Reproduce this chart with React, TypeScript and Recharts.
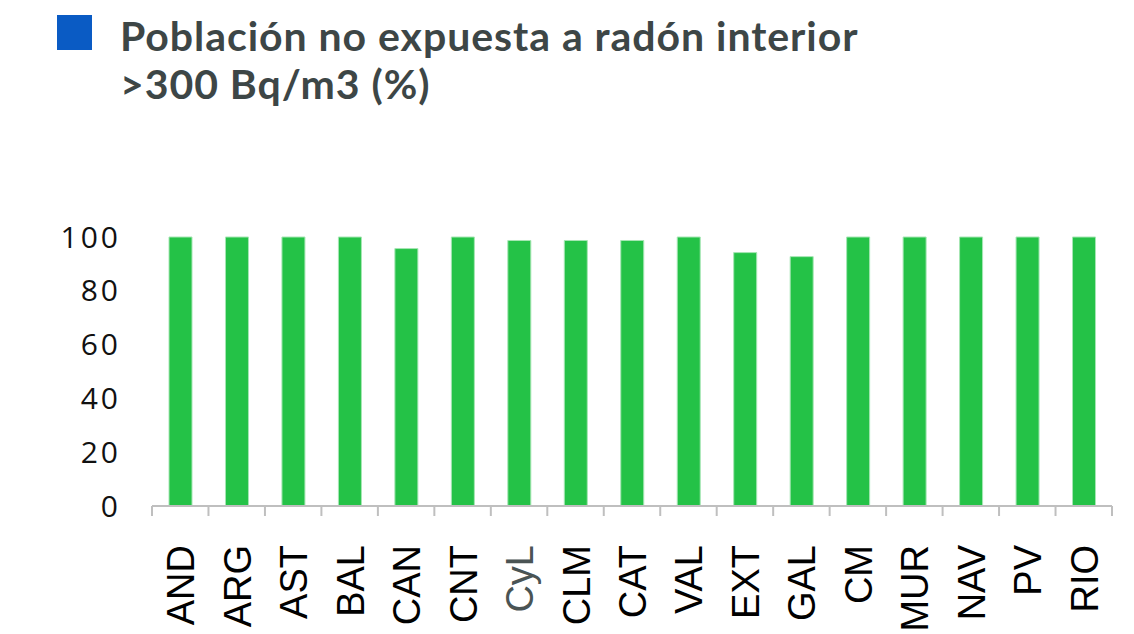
import { BarChart, Bar, XAxis, YAxis } from 'recharts';

const regions = ['AND', 'ARG', 'AST', 'BAL', 'CAN', 'CNT', 'CyL', 'CLM', 'CAT', 'VAL', 'EXT', 'GAL', 'CM', 'MUR', 'NAV', 'PV', 'RIO'];
const notExposed = [100, 100, 100, 100, 95.7, 100, 98.7, 98.7, 98.7, 100, 94.2, 92.7, 100, 100, 100, 100, 100];
const yTicks = [0, 20, 40, 60, 80, 100];

const data = regions.map((region, i) => ({ region, value: notExposed[i] }));

const WIDTH = 1134;
const HEIGHT = 634;
const PLOT_LEFT = 152;
const PLOT_RIGHT = 22;
const BAND = (WIDTH - PLOT_LEFT - PLOT_RIGHT) / regions.length;

function RegionTick(props: any) {
    const { x, y, payload, index } = props;
    const half = BAND / 2;
    const last = index === regions.length - 1;
    return (
        <g transform={`translate(${x},${y})`}>
            <line x1={-half} y1={0} x2={-half} y2={10} stroke="#bfbfbf" strokeWidth={2} />
            {last && <line x1={half} y1={0} x2={half} y2={10} stroke="#bfbfbf" strokeWidth={2} />}
            <text
                transform="rotate(-90)"
                x={-39}
                y={14}
                textAnchor="end"
                fontFamily="'Liberation Sans', Arial, sans-serif"
                fontSize={38}
                fill={payload.value === 'CyL' ? '#4a5454' : '#000'}
            >
                {payload.value}
            </text>
        </g>
    );
}

export default function App() {
    return (
        <div style={{ position: 'absolute', top: 0, left: 0, width: WIDTH, height: HEIGHT, background: '#fff' }}>
            <div style={{ position: 'absolute', left: 57, top: 15, width: 35, height: 35, background: '#0a5bc4' }} />
            <div
                style={{
                    position: 'absolute',
                    left: 120,
                    top: 12,
                    fontFamily: 'Lato, sans-serif',
                    fontWeight: 700,
                    fontSize: 41,
                    letterSpacing: 0.95,
                    lineHeight: '48px',
                    color: '#3d4646',
                    whiteSpace: 'nowrap',
                }}
            >
                Población no expuesta a radón interior
                <br />
                &gt;300 Bq/m3 (%)
            </div>
            <div style={{ position: 'absolute', top: 0, left: 0 }}>
                <BarChart
                    width={WIDTH}
                    height={HEIGHT}
                    data={data}
                    margin={{ top: 237, right: PLOT_RIGHT, bottom: 0, left: 0 }}
                    barCategoryGap="0%"
                >
                    <XAxis
                        dataKey="region"
                        interval={0}
                        height={128}
                        axisLine={{ stroke: '#bfbfbf', strokeWidth: 2 }}
                        tickLine={false}
                        tickSize={0}
                        tickMargin={0}
                        tick={<RegionTick />}
                    />
                    <YAxis
                        width={PLOT_LEFT}
                        domain={[0, 100]}
                        ticks={yTicks}
                        axisLine={false}
                        tickLine={false}
                        tickSize={0}
                        tickMargin={31}
                        tick={{ fill: '#111', fontSize: 30, fontFamily: "'Open Sans', sans-serif", letterSpacing: 3 }}
                    />
                    <Bar
                        dataKey="value"
                        fill="#24c247"
                        stroke="#a6e6b4"
                        strokeWidth={1}
                        barSize={23}
                        isAnimationActive={false}
                    />
                </BarChart>
            </div>
        </div>
    );
}
